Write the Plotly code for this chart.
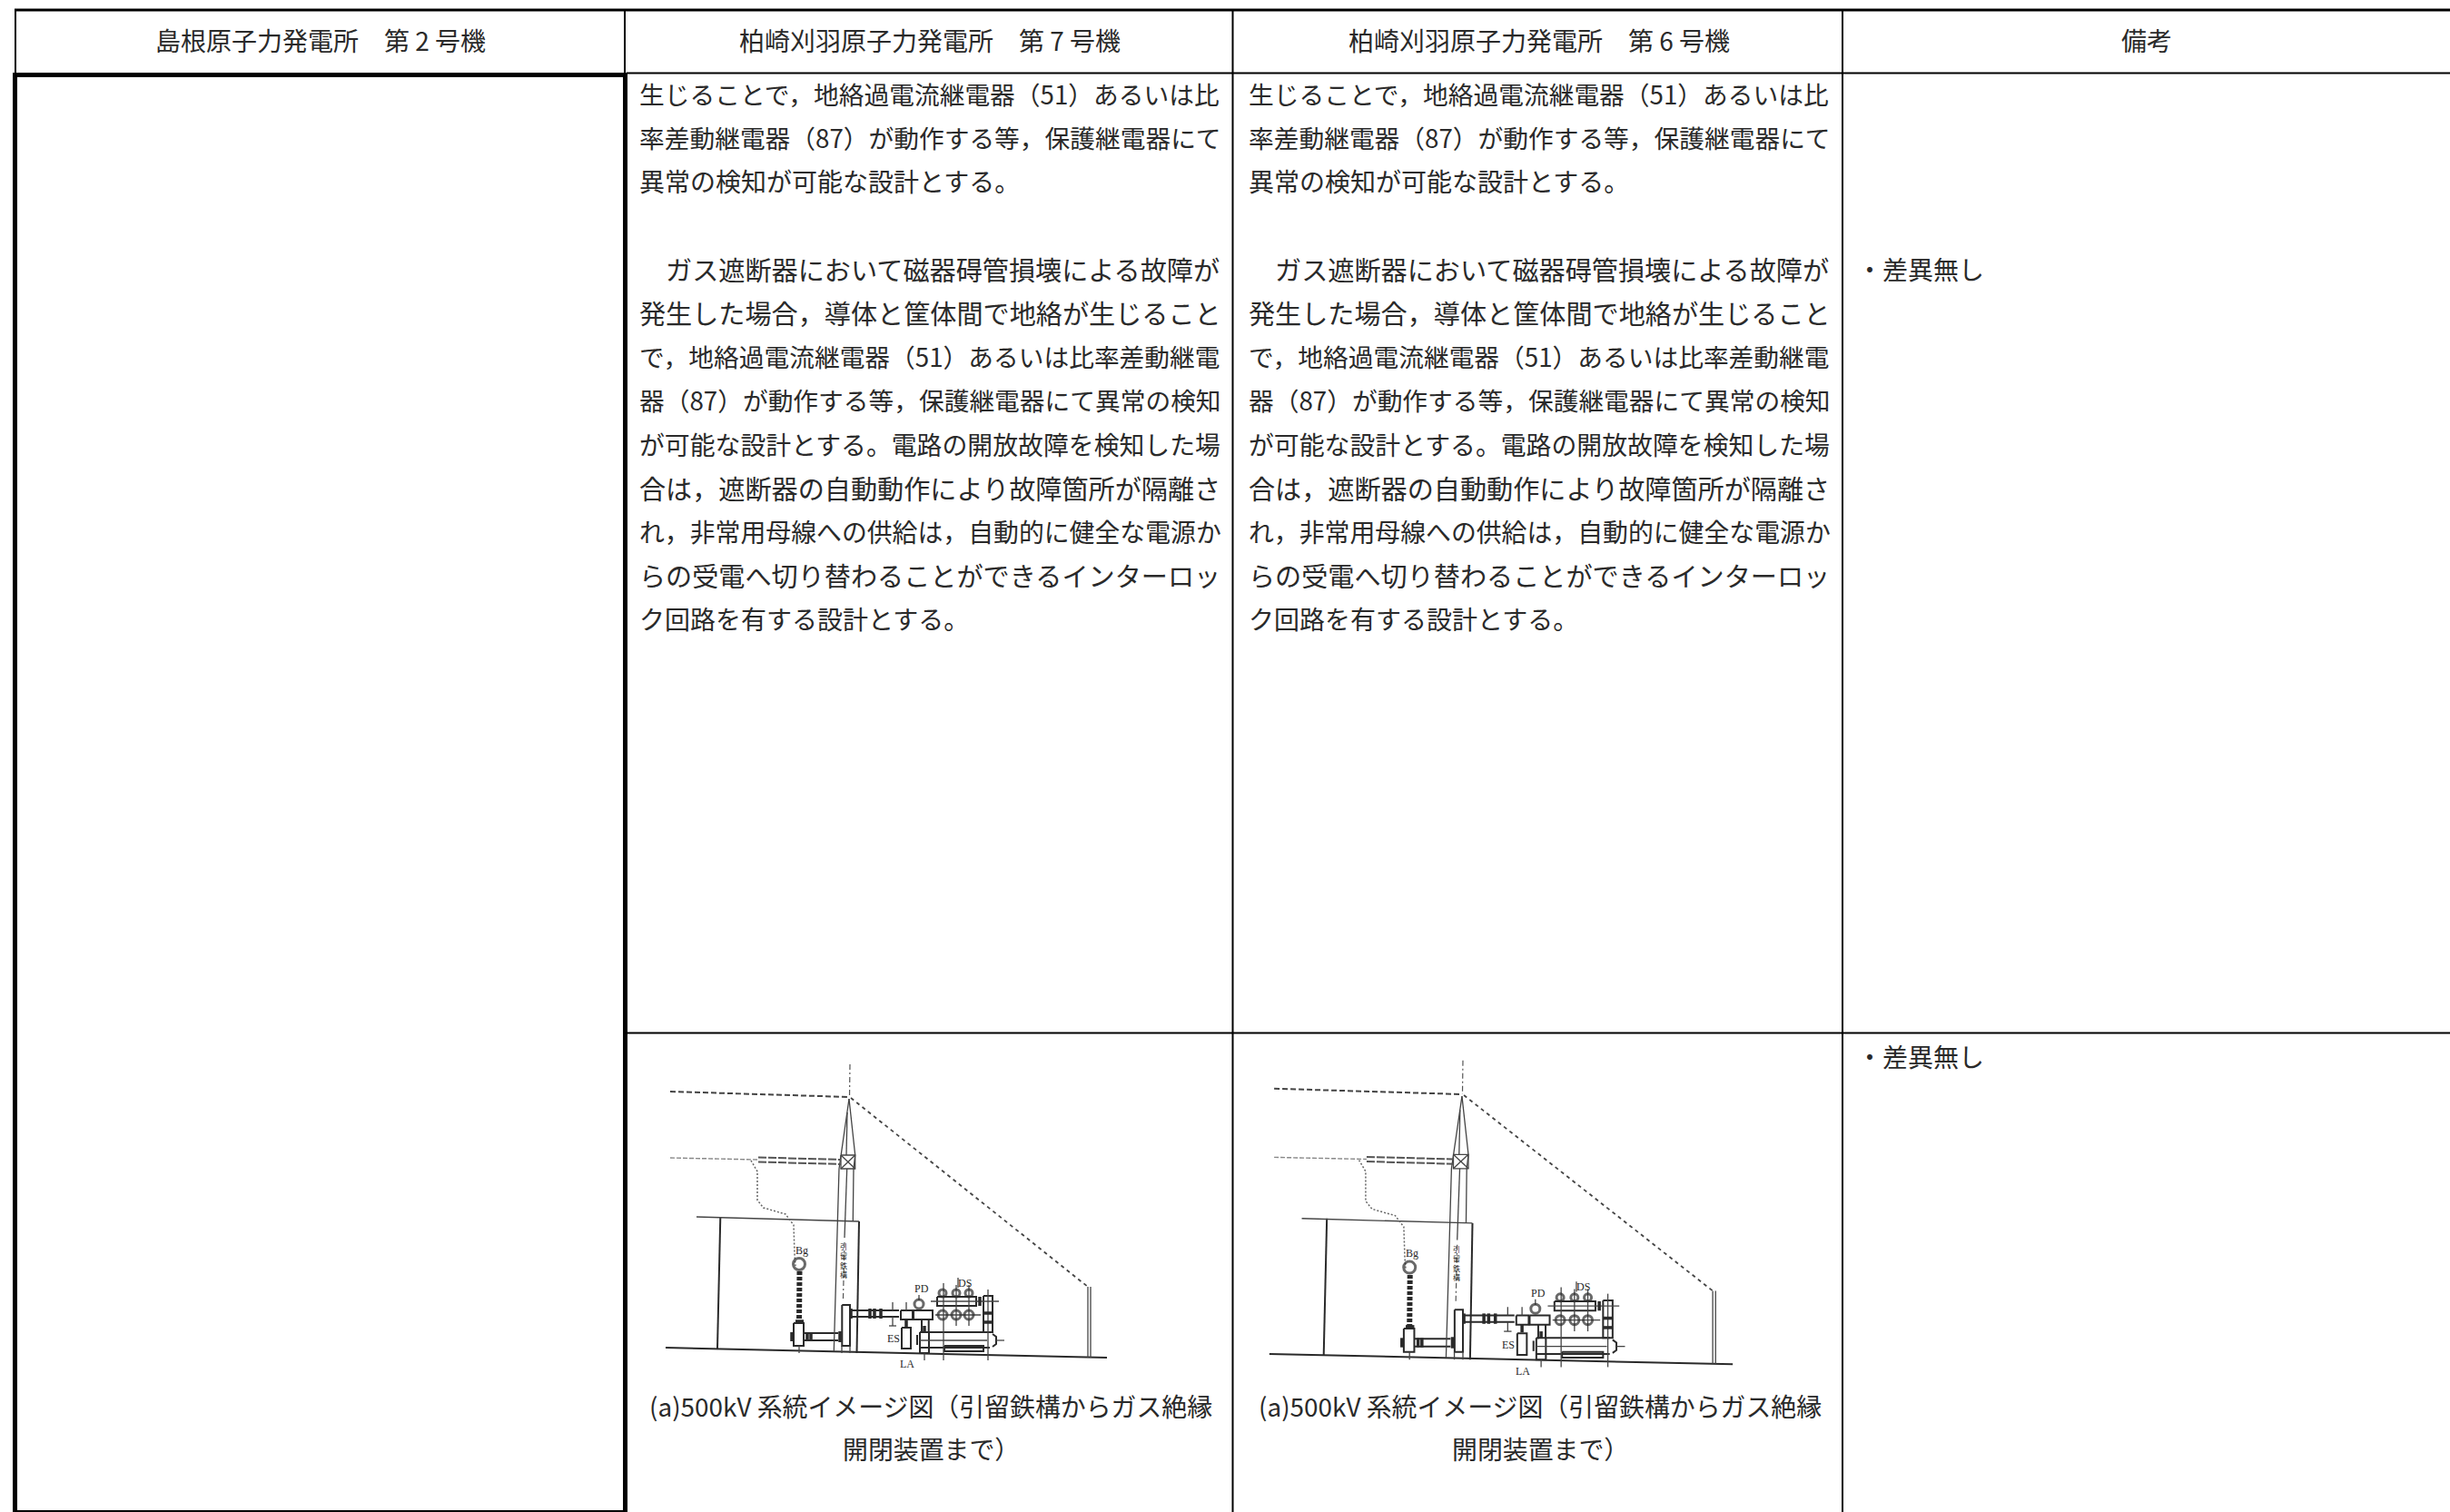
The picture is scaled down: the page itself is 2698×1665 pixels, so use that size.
import unicodedata
import plotly.graph_objects as go

# ---------- text content ----------
HEADERS = ["島根原子力発電所　第 2 号機", "柏崎刈羽原子力発電所　第 7 号機", "柏崎刈羽原子力発電所　第 6 号機", "備考"]
HEADER_X = [353, 1024, 1695, 2364]
BODY_LINES = [
    "生じることで，地絡過電流継電器（51）あるいは比",
    "率差動継電器（87）が動作する等，保護継電器にて",
    "異常の検知が可能な設計とする。",
    "",
    "　ガス遮断器において磁器碍管損壊による故障が",
    "発生した場合，導体と筐体間で地絡が生じること",
    "で，地絡過電流継電器（51）あるいは比率差動継電",
    "器（87）が動作する等，保護継電器にて異常の検知",
    "が可能な設計とする。電路の開放故障を検知した場",
    "合は，遮断器の自動動作により故障箇所が隔離さ",
    "れ，非常用母線への供給は，自動的に健全な電源か",
    "らの受電へ切り替わることができるインターロッ",
    "ク回路を有する設計とする。",
]
JUSTIFIED = [1, 1, 0, 0, 1, 1, 1, 1, 1, 1, 1, 1, 0]
CAPTION = ["(a)500kV 系統イメージ図（引留鉄構からガス絶縁", "開閉装置まで）"]
REMARK = "・差異無し"
REMARK_Y = [295.5, 1163]
BODY_X = [702, 1373]
CAPTION_X = [1025, 1696]

# ---------- table rules: (x0, y0, x1, y1, width) ----------
RULES = [
    (16, 11, 2698, 11, 3),
    (17, 11, 17, 80, 2),
    (688, 11, 688, 80, 2),
    (1357.5, 11, 1357.5, 1665, 2),
    (2029, 11, 2029, 1665, 2),
    (690, 80.5, 2698, 80.5, 2),
    (14, 82.5, 691, 82.5, 5),
    (16.5, 80, 16.5, 1665, 5),
    (688.5, 80, 688.5, 1665, 5),
    (16, 1664, 690, 1664, 2),
    (690, 1137.5, 2698, 1137.5, 2),
]

# ---------- switchyard sketch ----------
HEAVY = [
    [(733, 1484), (1219, 1495)],
    [(793.3, 1340), (790, 1485)],
    [(946, 1345), (943.5, 1490)],
    [(874, 1457), (885, 1457), (885, 1482), (874, 1482), (874, 1457)],
    [(927.3, 1437), (936, 1437), (936, 1482), (927.3, 1482), (927.3, 1437)],
    [(936, 1443), (990, 1443)],
    [(936, 1450), (990, 1450)],
    [(885, 1468), (923, 1468)],
    [(885, 1476), (923, 1476)],
    [(993, 1462), (1003, 1462), (1003, 1485), (993, 1485), (993, 1462)],
    [(992, 1443), (1005, 1443), (1005, 1453), (992, 1453), (992, 1443)],
    [(1006, 1443), (1027, 1443), (1027, 1453), (1006, 1453), (1006, 1443)],
    [(1015, 1453), (1015, 1468)],
    [(1022.7, 1453), (1022.7, 1468)],
    [(1013, 1467), (1090, 1467)],
    [(1013, 1484), (1090, 1484)],
    [(1010, 1470), (1010, 1481)],
    [(1013, 1467), (1013, 1490), (1023, 1490), (1023, 1467)],
    [(1093, 1469), (1097, 1472), (1097, 1480), (1093, 1483)],
    [(1040, 1482), (1083, 1482), (1083, 1488), (1040, 1488), (1040, 1482)],
    [(1083, 1427), (1093, 1427), (1093, 1467), (1083, 1467), (1083, 1427)],
    [(1032, 1428), (1075, 1428), (1075, 1438), (1032, 1438), (1032, 1428)],
]
THIN = [
    [(767, 1340), (946, 1345)],
    [(1198, 1417), (1198, 1495)],
    [(1201, 1417), (1201, 1495)],
    [(935, 1210), (926, 1272), (924, 1287), (918.3, 1488)],
    [(935, 1210), (941.7, 1272), (940, 1287), (939.3, 1345)],
    [(933, 1225), (932, 1272)],
    [(932.7, 1287), (930, 1363)],
    [(926, 1272), (941.7, 1272), (941.7, 1287), (926, 1287), (926, 1272)],
    [(926, 1272), (941.7, 1287)],
    [(941.7, 1272), (926, 1287)],
    [(1013, 1476), (1087, 1476)],
    [(927, 1482), (927, 1490)],
    [(936, 1482), (936, 1490)],
    [(880, 1482), (880, 1490)],
    [(1018, 1490), (1018, 1498)],
    [(1039, 1413), (1039, 1498)],
    [(1088, 1420), (1088, 1498)],
    [(1053, 1415), (1053, 1460)],
    [(1067, 1415), (1067, 1460)],
    [(1025, 1433), (1100, 1433)],
    [(1030, 1448), (1080, 1448)],
    [(1097, 1476), (1106, 1476)],
    [(1055, 1407), (1055, 1418)],
    [(1012, 1426), (1012, 1432)],
    [(998, 1434), (998, 1443)],
    [(983, 1434), (983, 1443)],
    [(983, 1450), (983, 1460)],
    [(979, 1460), (987, 1460)],
]
BUSHING = [[(880.5, 1400), (880, 1457)]]
BLOCKS = [
    [(876, 1455), (885, 1455)],
    [(872, 1467), (872, 1477)],
    [(889, 1467), (889, 1477)],
    [(893, 1467), (893, 1477)],
    [(925, 1466), (925, 1478)],
    [(937, 1441), (937, 1452)],
    [(958, 1441), (958, 1452)],
    [(963, 1441), (963, 1452)],
    [(970, 1441), (970, 1452)],
    [(998, 1453), (998, 1461)],
    [(1083, 1446), (1093, 1446)],
    [(1083, 1456), (1093, 1456)],
    [(1018, 1460), (1018, 1467)],
    [(1079, 1428), (1079, 1438)],
]
LONG_DASH = [[(738, 1202), (935, 1208)]]
SLOPE_DASH = [[(937, 1209), (1198, 1417)]]
CROSS_ARM = [
    [(835, 1274.5), (926, 1277)],
    [(835, 1279.5), (926, 1282)],
]
FAINT_DASH = [[(738, 1275), (835, 1277)]]
CENTER_LINE = [
    [(936, 1172), (935.5, 1208)],
    [(930, 1368), (928.5, 1430)],
]
WIRE = [[(827, 1278), (834, 1290), (834, 1321.6), (840.7, 1330), (865, 1337), (874, 1349), (875, 1381), (876, 1394)]]
RINGS_X = [880, 1038, 1053, 1067, 1012, 1038, 1053, 1067]
RINGS_Y = [1392, 1448, 1448, 1448, 1436, 1424, 1424, 1424]
RINGS_SIZE = [13, 10, 10, 10, 10, 8, 8, 8]
TAGS = ["Bg", "PD", "DS", "ES", "LA"]
TAGS_X = [883, 1015, 1062, 984, 999]
TAGS_Y = [1377, 1419, 1413, 1474, 1502]
TOWER_TAG = "引<br>留<br>鉄<br>構"
TOWER_TAG_AT = (929, 1388)

# second column's copy of the sketch is scanned slightly larger
COPIES = [(936, 1208, 936, 1.0, 1208, 1.0), (936, 1208, 1611, 1.05, 1205, 1.036)]


def em_width(s):
    total = 0.0
    for c in s:
        total += 1.0 if unicodedata.east_asian_width(c) in "WFA" else 0.56
    return total


def placed(segs, copy):
    ox, oy, nx, sx, ny, sy = copy
    xs, ys = [], []
    for seg in segs:
        for px, py in seg:
            xs.append(nx + (px - ox) * sx)
            ys.append(ny + (py - oy) * sy)
        xs.append(None)
        ys.append(None)
    return xs, ys


fig = go.Figure()
STYLES = [
    (HEAVY, 2.0, "#2a2a2a", "solid"),
    (THIN, 1.3, "#444444", "solid"),
    (BUSHING, 6.0, "#2a2a2a", "4px,2px"),
    (BLOCKS, 3.5, "#2a2a2a", "solid"),
    (LONG_DASH, 2.0, "#444444", "6px,3px"),
    (SLOPE_DASH, 1.8, "#444444", "4px,4px"),
    (CROSS_ARM, 2.0, "#555555", "9px,2px"),
    (FAINT_DASH, 1.4, "#888888", "5px,2px"),
    (CENTER_LINE, 1.2, "#555555", "6px,3px,2px,3px"),
    (WIRE, 1.5, "#666666", "2px,2px"),
]
for copy in COPIES:
    for segs, w, col, dash in STYLES:
        xs, ys = placed(segs, copy)
        fig.add_trace(go.Scatter(x=xs, y=ys, mode="lines", line=dict(width=w, color=col, dash=dash),
                                 hoverinfo="skip", showlegend=False))
    ox, oy, nx, sx, ny, sy = copy
    fig.add_trace(go.Scatter(
        x=[nx + (v - ox) * sx for v in RINGS_X], y=[ny + (v - oy) * sy for v in RINGS_Y], mode="markers",
        marker=dict(symbol="circle-open", size=RINGS_SIZE, color="#2a2a2a", line=dict(width=3, color="#2a2a2a")),
        hoverinfo="skip", showlegend=False))

shapes = [dict(type="line", xref="x", yref="y", x0=a, y0=b, x1=c, y1=d, line=dict(color="black", width=w))
          for a, b, c, d, w in RULES]

FONT = "Noto Sans CJK JP"
INK = "#2a2a2a"
ann = []


def note(text, x, y, size, anchor="left", family=FONT):
    ann.append(dict(text=text, x=x, y=y, xref="x", yref="y", xanchor=anchor, yanchor="middle", showarrow=False,
                    align="center", font=dict(family=family, size=size, color=INK)))


for h, hx in zip(HEADERS, HEADER_X):
    note(h, hx, 44, 28, "center")
for bx in BODY_X:
    for i, line in enumerate(BODY_LINES):
        if line:
            size = 641 / em_width(line) if JUSTIFIED[i] else 28
            note(line, bx, 103 + 48.2 * i, size)
for cx in CAPTION_X:
    note(CAPTION[0], cx, 1547.5, 27.9, "center")
    note(CAPTION[1], cx, 1595, 27.9, "center")
for ry in REMARK_Y:
    note(REMARK, 2043, ry, 28)
for copy in COPIES:
    ox, oy, nx, sx, ny, sy = copy
    for t, tx, ty in zip(TAGS, TAGS_X, TAGS_Y):
        note(t, nx + (tx - ox) * sx, ny + (ty - oy) * sy, 12, "center", "Liberation Serif")
    note(TOWER_TAG, nx + (TOWER_TAG_AT[0] - ox) * sx, ny + (TOWER_TAG_AT[1] - oy) * sy, 8, "center")

fig.update_layout(
    width=2698, height=1665, margin=dict(l=0, r=0, t=0, b=0), paper_bgcolor="white", plot_bgcolor="white",
    xaxis=dict(range=[0, 2698], visible=False, fixedrange=True),
    yaxis=dict(range=[1665, 0], visible=False, fixedrange=True),
    shapes=shapes, annotations=ann,
)
fig.write_html("out.html", post_script="document.body.style.margin='0';document.body.style.overflow='hidden';",
               config={"displayModeBar": False})
